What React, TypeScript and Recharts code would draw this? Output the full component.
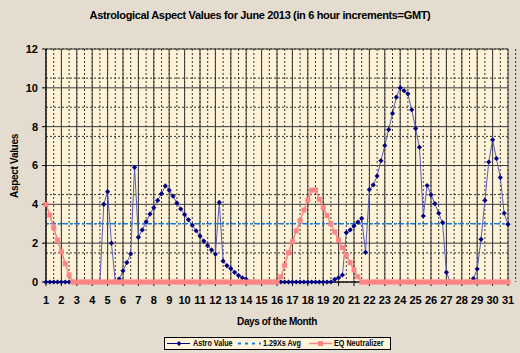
import { LineChart, Line, XAxis, YAxis, CartesianGrid } from "recharts";

// 6-hour increments, June 1 00h .. June 31 00h (121 readings)
const STEPS_PER_DAY = 4;
const DAY_TICKS = [
  1, 2, 3, 4, 5, 6, 7, 8, 9, 10, 11, 12, 13, 14, 15, 16, 17, 18, 19, 20, 21,
  22, 23, 24, 25, 26, 27, 28, 29, 30, 31,
];
const Y_TICKS = [0, 2, 4, 6, 8, 10, 12];
const Y_MINOR = [
  0, 0.5, 1, 1.5, 2, 2.5, 3, 3.5, 4, 4.5, 5, 5.5, 6, 6.5, 7, 7.5, 8, 8.5, 9,
  9.5, 10, 10.5, 11, 11.5, 12,
];

const ASTRO_VALUE = [
  // day 1 - 4
  0, 0, 0, 0, 0, 0, 0, 0, 0, 0, 0, 0, 0, 0, 0, 4.0,
  // day 5 - 8
  4.65, 2.0, 0, 0.15, 0.58, 1.0, 1.45, 5.9, 2.3, 2.68, 3.1, 3.5, 3.83, 4.2, 4.55, 4.95,
  // day 9 - 12
  4.73, 4.42, 4.07, 3.76, 3.47, 3.2, 2.92, 2.64, 2.37, 2.11, 1.87, 1.65, 1.44, 4.1, 1.08, 0.84,
  // day 13 - 16
  0.69, 0.5, 0.34, 0.22, 0.14, 0, 0, 0, 0, 0, 0, 0, 0, 0, 0, 0,
  // day 17 - 20
  0, 0, 0, 0, 0, 0, 0, 0, 0, 0, 0, 0.14, 0.22, 0.36, 2.54, 2.68,
  // day 21 - 24
  2.89, 3.08, 3.28, 1.53, 4.76, 5.0, 5.46, 6.25, 7.03, 7.85, 8.68, 9.52, 10.0, 9.85, 9.69, 8.87,
  // day 25 - 28
  7.9, 6.94, 3.4, 4.97, 4.5, 4.04, 3.54, 3.06, 0.5, 0, 0, 0, 0, 0, 0, 0.17,
  // day 29 - 31
  0.67, 2.2, 4.2, 6.18, 7.32, 6.36, 5.38, 3.54, 2.97,
];

const EQ_NEUTRALIZER = [
  4.0, 3.45, 2.8, 2.15, 1.56, 0.94, 0.36, 0, 0, 0, 0, 0, 0, 0, 0, 0,
  0, 0, 0, 0, 0, 0, 0, 0, 0, 0, 0, 0, 0, 0, 0, 0,
  0, 0, 0, 0, 0, 0, 0, 0, 0, 0, 0, 0, 0, 0, 0, 0,
  0, 0, 0, 0, 0, 0, 0, 0, 0, 0, 0, 0, 0, 0.27, 0.86, 1.51,
  2.08, 2.64, 3.16, 3.71, 4.23, 4.73, 4.74, 4.26, 3.83, 3.42, 3.0, 2.58, 2.16, 1.77, 1.36, 1.0,
  0.62, 0.27, 0, 0, 0, 0, 0, 0, 0, 0, 0, 0, 0, 0, 0, 0,
  0, 0, 0, 0, 0, 0, 0, 0, 0, 0, 0, 0, 0, 0, 0, 0,
  0, 0, 0, 0, 0, 0, 0, 0, 0,
];

const AVG_LEVEL = 3; // "1.29Xs Avg"

const data = ASTRO_VALUE.map((v, i) => ({
  day: 1 + i / STEPS_PER_DAY,
  astro: v,
  avg: AVG_LEVEL,
  eq: EQ_NEUTRALIZER[i],
}));

const X_MINOR = DAY_TICKS.flatMap((d) => [d, d + 0.5]);

const FONT = '"Liberation Sans", Arial, sans-serif';
const NAVY = "#000080";
const ASTRO_LINE = "#5c5cb4";
const AVG_BLUE = "#0f7fe4";
const PINK = "#ff8484";

const Diamond = (props: any) => {
  const { cx, cy, index } = props;
  if (cx == null || cy == null) return <g key={index} />;
  const r = 2.6;
  return (
    <polygon
      key={index}
      points={`${cx},${cy - r} ${cx + r},${cy} ${cx},${cy + r} ${cx - r},${cy}`}
      fill={NAVY}
    />
  );
};

const Square = (props: any) => {
  const { cx, cy, index } = props;
  if (cx == null || cy == null) return <g key={index} />;
  return <rect key={index} x={cx - 2.5} y={cy - 2.5} width={5} height={5} fill={PINK} />;
};

const tickStyle = { fontSize: 11, fontWeight: 700, fill: "#000", fontFamily: FONT };

function LegendBox() {
  const txt = (left: number) =>
    ({
      position: "absolute",
      left,
      top: 0,
      lineHeight: "11px",
      fontSize: 9,
      fontWeight: 700,
      whiteSpace: "nowrap",
      transform: "scaleX(0.8)",
      transformOrigin: "left center",
    }) as const;
  const sw = (left: number) => ({ position: "absolute", left, top: 2 }) as const;
  return (
    <div
      style={{
        position: "absolute",
        left: 164,
        top: 337,
        width: 227,
        height: 13,
        border: "1px solid #000",
        background: "#fff4da",
        boxSizing: "border-box",
        fontFamily: FONT,
      }}
    >
      <svg width={23} height={7} style={sw(2)}>
        <line x1={0} y1={3.5} x2={23} y2={3.5} stroke={NAVY} strokeWidth={1} />
        <polygon points="12,1 14.5,3.5 12,6 9.5,3.5" fill={NAVY} />
      </svg>
      <span style={txt(28)}>Astro Value</span>
      <svg width={23} height={7} style={sw(73)}>
        <line x1={0} y1={3.5} x2={23} y2={3.5} stroke={AVG_BLUE} strokeWidth={2} strokeDasharray="3 4" />
      </svg>
      <span style={txt(98)}>1.29Xs Avg</span>
      <svg width={23} height={7} style={sw(144)}>
        <line x1={0} y1={3.5} x2={23} y2={3.5} stroke={PINK} strokeWidth={1.5} />
        <rect x={9} y={1} width={5} height={5} fill={PINK} />
      </svg>
      <span style={txt(169)}>EQ Neutralizer</span>
    </div>
  );
}

export default function App() {
  return (
    <div
      style={{
        position: "absolute",
        left: 0,
        top: 0,
        width: 520,
        height: 353,
        background: "#e3dccf",
        fontFamily: FONT,
        overflow: "hidden",
      }}
    >
      <div
        style={{
          position: "absolute",
          left: 0,
          width: 520,
          top: 9,
          textAlign: "center",
          fontSize: 11,
          fontWeight: 700,
          letterSpacing: -0.35,
        }}
      >
        Astrological Aspect Values for June 2013 (in 6 hour increments=GMT)
      </div>
      <div
        style={{
          position: "absolute",
          left: 14,
          top: 166,
          fontSize: 10,
          fontWeight: 700,
          whiteSpace: "nowrap",
          letterSpacing: -0.3,
          transform: "translate(-50%, -50%) rotate(-90deg)",
        }}
      >
        Aspect Values
      </div>
      <div
        style={{
          position: "absolute",
          left: 277,
          top: 321,
          fontSize: 10,
          fontWeight: 700,
          whiteSpace: "nowrap",
          letterSpacing: -0.4,
          transform: "translate(-50%, -50%)",
        }}
      >
        Days of the Month
      </div>
      <div style={{ position: "absolute", left: 0, top: 0 }}>
        <LineChart
          width={520}
          height={353}
          data={data}
          margin={{ top: 49, right: 12, bottom: 51, left: 0 }}
        >
          <CartesianGrid
            fill="#fef3d9"
            stroke="#333"
            strokeDasharray="2 2"
            horizontalValues={Y_MINOR}
            verticalValues={X_MINOR}
          />
          <CartesianGrid
            stroke="#3a3a3a"
            horizontalValues={Y_TICKS}
            verticalValues={DAY_TICKS}
          />
          <XAxis
            dataKey="day"
            type="number"
            domain={[1, 31]}
            ticks={DAY_TICKS}
            interval={0}
            height={20}
            tickSize={4}
            tickMargin={10}
            tick={tickStyle}
            stroke="#000"
          />
          <YAxis
            type="number"
            domain={[0, 12]}
            ticks={Y_TICKS}
            width={46}
            tickSize={4}
            tickMargin={4}
            tick={tickStyle}
            stroke="#000"
          />
          <Line
            dataKey="astro"
            stroke={ASTRO_LINE}
            strokeWidth={1}
            dot={Diamond}
            activeDot={false}
            isAnimationActive={false}
          />
          <Line
            dataKey="avg"
            stroke={AVG_BLUE}
            strokeWidth={1.5}
            strokeDasharray="3 3"
            dot={false}
            activeDot={false}
            isAnimationActive={false}
          />
          <Line
            dataKey="eq"
            stroke={PINK}
            strokeWidth={1.5}
            dot={Square}
            activeDot={false}
            isAnimationActive={false}
          />
        </LineChart>
      </div>
      <LegendBox />
    </div>
  );
}
